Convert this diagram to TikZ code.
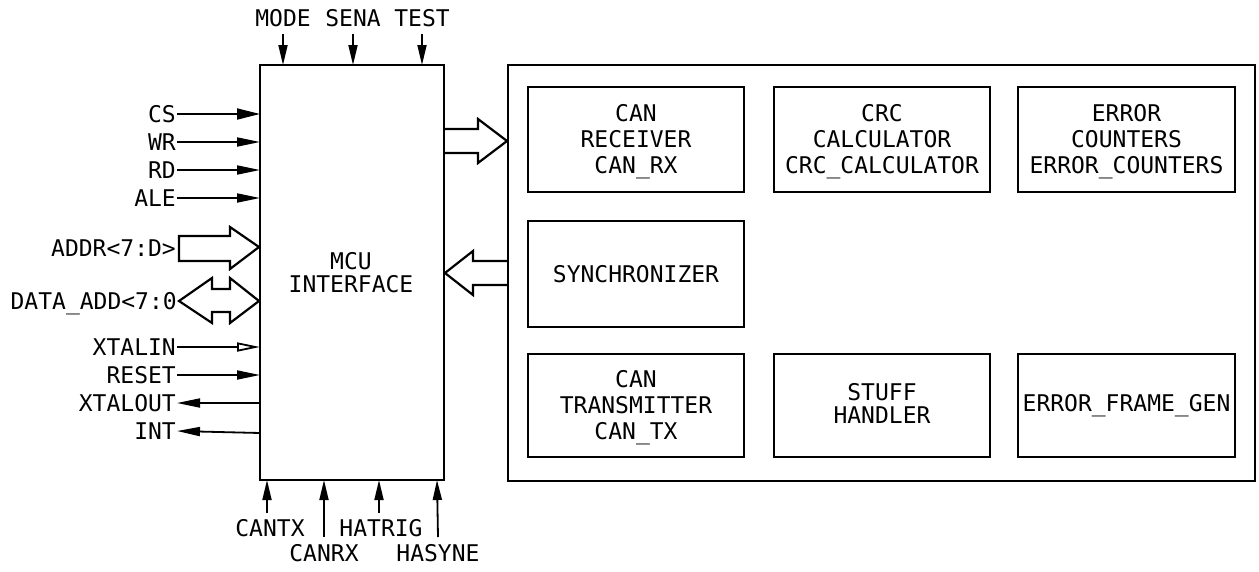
\documentclass[tikz,border=0pt]{standalone}
\usepackage{fontspec}
\setmainfont{DejaVu Sans Mono}
\usetikzlibrary{arrows.meta,calc}
\tikzset{
  x=1pt,y=-1pt,
  every node/.style={font=\fontsize{23}{26}\selectfont},
  blockbox/.style={draw=black,line width=2.4pt,inner sep=0pt,outer sep=0pt,anchor=north west},
  blocktext/.style={align=center,inner sep=0pt},
  pinlabel/.style={inner sep=1pt,text height=16.5pt,text depth=0pt},
  sig/.style={line width=1.8pt,-{Triangle[length=23pt,width=11pt]}},
  sigthin/.style={line width=1.8pt,-{Triangle[length=23pt,width=9pt]}},
  sigvert/.style={line width=1.8pt,-{Triangle[length=20pt,width=9pt]}},
  sigopen/.style={line width=1.8pt,-{Triangle[open,length=23pt,width=9pt]}},
  bus/.style={draw=black,line width=2.2pt,line join=miter}
}
\begin{document}
\begin{tikzpicture}
\useasboundingbox (0,0) rectangle (1259,571);
% blocks
\node[blockbox,minimum width=184pt,minimum height=415pt] (mcu) at (260,65) {};
\node[blockbox,minimum width=747pt,minimum height=416pt] (core) at (508,65) {};
\node[blockbox,minimum width=216pt,minimum height=105pt] (rx) at (528,87) {};
\node[blockbox,minimum width=216pt,minimum height=105pt] (crc) at (774,87) {};
\node[blockbox,minimum width=217pt,minimum height=105pt] (err) at (1018,87) {};
\node[blockbox,minimum width=216pt,minimum height=106pt] (syn) at (528,221) {};
\node[blockbox,minimum width=216pt,minimum height=103pt] (tx) at (528,354) {};
\node[blockbox,minimum width=216pt,minimum height=103pt] (stf) at (774,354) {};
\node[blockbox,minimum width=217pt,minimum height=103pt] (efg) at (1018,354) {};
% block texts
\node[blocktext,yshift=-2pt] (rxt) at (rx.center) {CAN\\RECEIVER\\CAN\_RX};
\node[blocktext,yshift=-2pt] (crct) at (crc.center) {CRC\\CALCULATOR\\CRC\_CALCULATOR};
\node[blocktext,yshift=-2pt] (errt) at (err.center) {ERROR\\COUNTERS\\ERROR\_COUNTERS};
\node[blocktext] (synt) at (syn.center) {SYNCHRONIZER};
\node[blocktext,yshift=-2.5pt] (txt) at (tx.center) {CAN\\TRANSMITTER\\CAN\_TX};
\node[blocktext,yshift=2pt] (stft) at (stf.center) {STUFF\\[-3pt]HANDLER};
\node[blocktext] (efgt) at (efg.center) {ERROR\_FRAME\_GEN};
% left labels
\node[pinlabel,anchor=east] (cs) at (177,114) {CS};
\node[pinlabel,anchor=east] (wr) at (177,142) {WR};
\node[pinlabel,anchor=east] (rd) at (177,170) {RD};
\node[pinlabel,anchor=east] (ale) at (177,198) {ALE};
\node[pinlabel,anchor=east] (addr) at (177,248) {ADDR<7:D>};
\node[pinlabel,anchor=east] (data) at (178,301) {DATA\_ADD<7:0};
\node[pinlabel,anchor=east] (xin) at (177,347) {XTALIN};
\node[pinlabel,anchor=east] (rst) at (177,375) {RESET};
\node[pinlabel,anchor=east] (xout) at (177,403) {XTALOUT};
\node[pinlabel,anchor=east] (int) at (177,431) {INT};
% top labels
\node[pinlabel] (mode) at (283,18) {MODE};
\node[pinlabel] (sena) at (353,18) {SENA};
\node[pinlabel] (test) at (422,18) {TEST};
% bottom labels
\node[pinlabel] (cantx) at (270,528) {CANTX};
\node[pinlabel] (canrx) at (324,553) {CANRX};
\node[pinlabel] (hatrig) at (381,528) {HATRIG};
\node[pinlabel] (hasyne) at (438,553) {HASYNE};
% left connectors
\draw[sig] (cs.east) -- (mcu.west |- cs.east);
\draw[sigthin] (wr.east) -- (mcu.west |- wr.east);
\draw[sigthin] (rd.east) -- (mcu.west |- rd.east);
\draw[sigthin] (ale.east) -- (mcu.west |- ale.east);
\draw[sigopen] (xin.east) -- (mcu.west |- xin.east);
\draw[sigthin] (rst.east) -- (mcu.west |- rst.east);
\draw[sigthin] (mcu.west |- xout.east) -- (xout.east);
\draw[sigthin] ($(mcu.west |- int.east)+(0,2)$) -- (int.east);
% top connectors
\draw[sigvert] (mcu.north -| mode) ++(0,-31) coordinate (m0) -- (mcu.north -| mode);
\draw[sigvert] (mcu.north -| sena) ++(0,-31) coordinate (s0) -- (mcu.north -| sena);
\draw[sigvert] (mcu.north -| test) ++(0,-31) coordinate (t0) -- (mcu.north -| test);
% bottom connectors
\coordinate (b1) at (267,513);
\coordinate (b2) at (324,537);
\coordinate (b3) at (379,513);
\coordinate (b4) at (438,537);
\draw[sigvert] (b1) -- (mcu.south -| b1);
\draw[sigvert] (b2) -- (mcu.south -| b2);
\draw[sigvert] (b3) -- (mcu.south -| b3);
\draw[sigvert] (b4) -- (437,480);
% buses
\draw[bus] (179,236) -- (230,236) -- (230,227) -- (259,247) -- (230,269) -- (230,261) -- (179,261) -- cycle;
\draw[bus] (179,301) -- (212,278) -- (212,289) -- (230,289) -- (230,278) -- (259,301) -- (230,323) -- (230,312) -- (212,312) -- (212,323) -- cycle;
\draw[bus] (mcu.east |- 0,129) -- (478,129) -- (478,119) -- (507,141) -- (478,163) -- (478,153) -- (mcu.east |- 0,153);
\draw[bus] (core.west |- 0,261) -- (473,261) -- (473,251) -- (445,273) -- (473,295) -- (473,285) -- (core.west |- 0,285);
\node[align=center,inner sep=0pt] (mculabel) at (351,273) {MCU\\[-3pt]INTERFACE};
\end{tikzpicture}
\end{document}
